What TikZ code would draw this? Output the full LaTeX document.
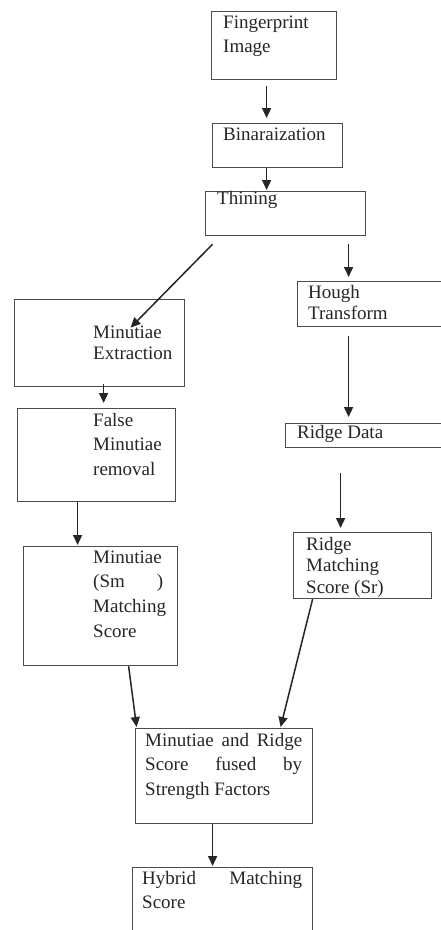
\documentclass[tikz,border=0pt]{standalone}
\usepackage{fontspec}
\setmainfont{Liberation Serif}
\usetikzlibrary{arrows.meta}
\tikzset{
  box/.style={draw=black!70, line width=1.2pt, inner sep=0pt, anchor=north west},
  txt/.style={anchor=north west, inner sep=0pt, align=left, text=black!85,
              font=\fontsize{19}{24}\selectfont},
  tight/.style={font=\fontsize{19}{21.5}\selectfont},
  loose/.style={font=\fontsize{19}{24.6}\selectfont},
  arr/.style={draw=black!85, line width=1.5pt, -{Triangle[width=9pt,length=10pt]}}
}
\newcommand{\bx}[5]{\node[box, minimum width=#3pt, minimum height=#4pt] (#5) at (#1,#2) {};}
\begin{document}
\begin{tikzpicture}[x=1pt, y=-1pt]
\clip (0,0) rectangle (441,930);
\fill[white] (0,0) rectangle (441,930);
% boxes
\bx{211}{11}{125}{68}{fp}
\bx{212}{123}{130}{44}{bin}
\bx{205}{191}{160}{44}{thin}
\bx{14}{299}{170}{87}{mex}
\bx{297}{281}{160}{45}{hough}
\bx{17}{408}{158}{93}{fmr}
\bx{285}{423}{170}{24}{rdata}
\bx{23}{546}{154}{119}{msm}
\bx{293}{532}{138}{66}{rms}
\bx{135}{728}{177}{95}{fused}
\bx{132}{867}{180}{90}{hyb}
% texts (top = first baseline - 0.7 baselineskip)
\node[txt] (tfp) at (223,11.2) {\strut Fingerprint\\Image};
\node[txt] (tbin) at (223,123.2) {\strut Binaraization};
\node[txt] (tthin) at (217,187.2) {\strut Thining};
\node[txt, tight] (though) at (308,282.95) {\strut Hough\\Transform};
\node[txt, tight] (tmex) at (93,322.95) {\strut Minutiae\\Extraction};
\node[txt, loose] (tfmr) at (93,408.8) {\strut False\\Minutiae\\removal};
\node[txt] (trdata) at (297,421.2) {\strut Ridge Data};
\node[txt, loose] (tmsm) at (93,545.8) {\strut Minutiae\\\hbox to 70pt{(Sm\hfill)}\\Matching\\Score};
\node[txt, tight] (trms) at (306,534.95) {\strut Ridge\\Matching\\Score (Sr)};
\node[txt, loose] (tfused) at (145,728.8) {\strut\makebox[157pt][s]{Minutiae and Ridge}\\\makebox[157pt][s]{Score fused by}\\Strength Factors};
\node[txt] (thyb) at (142,867.2) {\strut\makebox[160pt][s]{Hybrid Matching}\\Score};
% connectors
\draw[arr] ([xshift=-7.5pt,yshift=-6pt]fp.south) -- ([xshift=-11pt,yshift=5pt]bin.north);
\draw[arr] ([xshift=-11pt]bin.south) -- ([xshift=-19pt,yshift=1pt]thin.north);
\draw[arr] ([xshift=-73pt,yshift=-8pt]thin.south) -- ([xshift=31pt,yshift=15.5pt]mex.center);
\draw[arr] ([xshift=63pt,yshift=-8pt]thin.south) -- ([xshift=-29pt,yshift=4pt]hough.north);
\draw[arr] ([xshift=-29pt,yshift=-9pt]hough.south) -- ([xshift=-22pt,yshift=6pt]rdata.north);
\draw[arr] ([xshift=4pt,yshift=3pt]mex.south) -- ([xshift=7pt,yshift=5pt]fmr.north);
\draw[arr] ([xshift=-19pt]fmr.south) -- ([xshift=-23pt,yshift=1pt]msm.north);
\draw[arr] ([xshift=-30pt,yshift=-25pt]rdata.south) -- ([xshift=-22pt,yshift=4pt]rms.north);
\draw[arr] ([xshift=28pt]msm.south) -- ([xshift=-87.5pt,yshift=1pt]fused.north);
\draw[arr] ([xshift=-50pt]rms.south) -- ([xshift=56.5pt,yshift=1pt]fused.north);
\draw[arr] ([xshift=-11.5pt]fused.south) -- ([xshift=-10pt,yshift=1pt]hyb.north);
\end{tikzpicture}
\end{document}
